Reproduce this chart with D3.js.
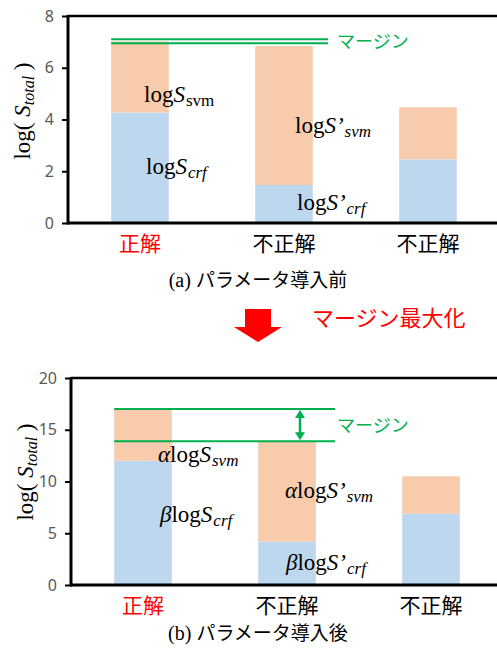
<!doctype html>
<html lang="ja">
<head>
<meta charset="UTF-8" />
<title>margin chart</title>
<script src="https://d3js.org/d3.v7.min.js"></script>
<style>
  html, body { margin: 0; padding: 0; background: #fff; }
  svg { display: block; }
  .tick text { fill: #595959; font-family: "Noto Sans", sans-serif; font-size: 16px; }
  .jp { font-family: "Noto Sans CJK JP", sans-serif; }
  .math { font-family: "Liberation Serif", serif; }
</style>
</head>
<body>
<svg id="chart" width="497" height="648"></svg>
<script>
  // data
  const categories = ["正解", "不正解", "不正解"];
  const catColors = ["#ff0000", "#000", "#000"];

  const crfBefore = [4.27, 1.47, 2.46];
  const svmBefore = [2.75, 5.37, 2.01];
  const marginBefore = [7.1, 6.95];
  const ticksBefore = [0, 2, 4, 6, 8];

  const crfAfter = [12, 4.2, 6.9];
  const svmAfter = [5, 9.7, 3.6];
  const marginAfter = [17, 13.9];
  const ticksAfter = [0, 5, 10, 15, 20];

  const blue = "#bdd7ee";
  const orange = "#f8cbad";
  const green = "#00b050";

  const svg = d3.select("#chart");

  function mathLabel(g, x, y, pre, prime, sub, subItalic) {
    const t = g.append("text").attr("class", "math").attr("x", x).attr("y", y)
      .attr("font-size", 23).attr("fill", "#000");
    if (pre) t.append("tspan").attr("font-style", "italic").text(pre);
    t.append("tspan").text("log");
    t.append("tspan").attr("font-style", "italic").text("S" + (prime ? "’" : ""));
    t.append("tspan").attr("font-size", 17).attr("dy", 4).attr("dx", 1)
      .attr("font-style", subItalic ? "italic" : "normal").text(sub);
  }

  function panel(o) {
    const g = svg.append("g");
    const x = d3.scaleBand().domain(d3.range(categories.length))
      .range([o.left, o.right]).paddingInner(0.6).paddingOuter(0.3);
    const y = d3.scaleLinear().domain([0, o.max]).range([o.bottom, o.top]);

    // bars
    g.selectAll(".crf").data(o.crf).join("rect")
      .attr("x", (d, i) => x(i)).attr("width", x.bandwidth())
      .attr("y", d => y(d)).attr("height", d => y(0) - y(d))
      .attr("fill", blue);
    g.selectAll(".svm").data(o.svm).join("rect")
      .attr("x", (d, i) => x(i)).attr("width", x.bandwidth())
      .attr("y", (d, i) => y(o.crf[i] + d)).attr("height", d => y(0) - y(d))
      .attr("fill", orange);

    // frame
    g.append("line").attr("x1", o.left).attr("x2", 497).attr("y1", o.top).attr("y2", o.top)
      .attr("stroke", "#000").attr("stroke-width", 2.5);
    g.append("line").attr("x1", o.left).attr("x2", 497).attr("y1", o.bottom).attr("y2", o.bottom)
      .attr("stroke", "#000").attr("stroke-width", 3);

    const ax = g.append("g").attr("transform", `translate(${o.left},0)`)
      .call(d3.axisLeft(y).tickValues(o.ticks).tickSize(6).tickPadding(8));
    ax.select(".domain").attr("stroke-width", 3).attr("d", `M0,${o.bottom + 1.5}V${o.top - 1}`);
    ax.selectAll(".tick line").attr("stroke-width", 2);

    // y title
    const yt = g.append("text").attr("class", "math")
      .attr("transform", `translate(${o.left - 38},${o.titleY}) rotate(-90)`)
      .attr("text-anchor", "middle").attr("font-size", 23);
    yt.append("tspan").text("log( ");
    yt.append("tspan").attr("font-style", "italic").text("S");
    yt.append("tspan").attr("font-style", "italic").attr("font-size", 16).attr("dy", 4).text("total");
    yt.append("tspan").attr("dy", -4).text(" )");

    // margin lines
    o.margin.forEach(m => {
      g.append("line").attr("x1", x(0)).attr("x2", o.marginEnd)
        .attr("y1", y(m)).attr("y2", y(m)).attr("stroke", green).attr("stroke-width", 2);
    });
    g.append("text").attr("class", "jp").attr("x", 337).attr("y", o.marginTextY)
      .attr("font-size", 18).attr("fill", green).text("マージン");

    // categories
    g.selectAll(".cat").data(categories).join("text").attr("class", "jp")
      .attr("x", (d, i) => x(i) + x.bandwidth() / 2).attr("y", o.bottom + 28)
      .attr("text-anchor", "middle").attr("font-size", 21)
      .attr("fill", (d, i) => catColors[i]).text(d => d);

    // caption
    const cap = g.append("text").attr("x", 258).attr("y", o.captionY)
      .attr("text-anchor", "middle").attr("font-size", 19);
    cap.append("tspan").attr("class", "math").attr("font-size", 20).text(o.capPre + " ");
    cap.append("tspan").attr("class", "jp").text(o.capText);

    return { g, x, y };
  }

  const a = panel({
    left: 68, right: 500, top: 16, bottom: 223, max: 8, ticks: ticksBefore,
    crf: crfBefore, svm: svmBefore, margin: marginBefore, marginEnd: 328,
    marginTextY: 48, titleY: 111, captionY: 287, capPre: "(a)", capText: "パラメータ導入前"
  });
  mathLabel(a.g, 144, 102, "", false, "svm", false);
  mathLabel(a.g, 146, 174, "", false, "crf", true);
  mathLabel(a.g, 295, 133, "", true, "svm", true);
  mathLabel(a.g, 297, 210, "", true, "crf", true);

  const b = panel({
    left: 71, right: 503, top: 378, bottom: 585, max: 20, ticks: ticksAfter,
    crf: crfAfter, svm: svmAfter, margin: marginAfter, marginEnd: 335,
    marginTextY: 432, titleY: 472, captionY: 640, capPre: "(b)", capText: "パラメータ導入後"
  });
  mathLabel(b.g, 158, 462, "α", false, "svm", true);
  mathLabel(b.g, 160, 522, "β", false, "crf", true);
  mathLabel(b.g, 285, 498, "α", true, "svm", true);
  mathLabel(b.g, 286, 570, "β", true, "crf", true);

  // double-headed margin arrow
  const ya = b.y(marginAfter[0]), yb = b.y(marginAfter[1]);
  const ax0 = 300;
  b.g.append("line").attr("x1", ax0).attr("x2", ax0).attr("y1", ya + 6).attr("y2", yb - 6)
    .attr("stroke", green).attr("stroke-width", 2.5);
  b.g.append("path").attr("d", `M${ax0},${ya + 1}l-5,8h10z M${ax0},${yb - 1}l-5,-8h10z`).attr("fill", green);

  // big red arrow between panels
  svg.append("path")
    .attr("d", "M245,309H271V327H282L258,342L234,327H245Z")
    .attr("fill", "#ff0000");
  svg.append("text").attr("class", "jp").attr("x", 312).attr("y", 326)
    .attr("font-size", 22).attr("fill", "#ff0000").text("マージン最大化");
</script>
</body>
</html>
